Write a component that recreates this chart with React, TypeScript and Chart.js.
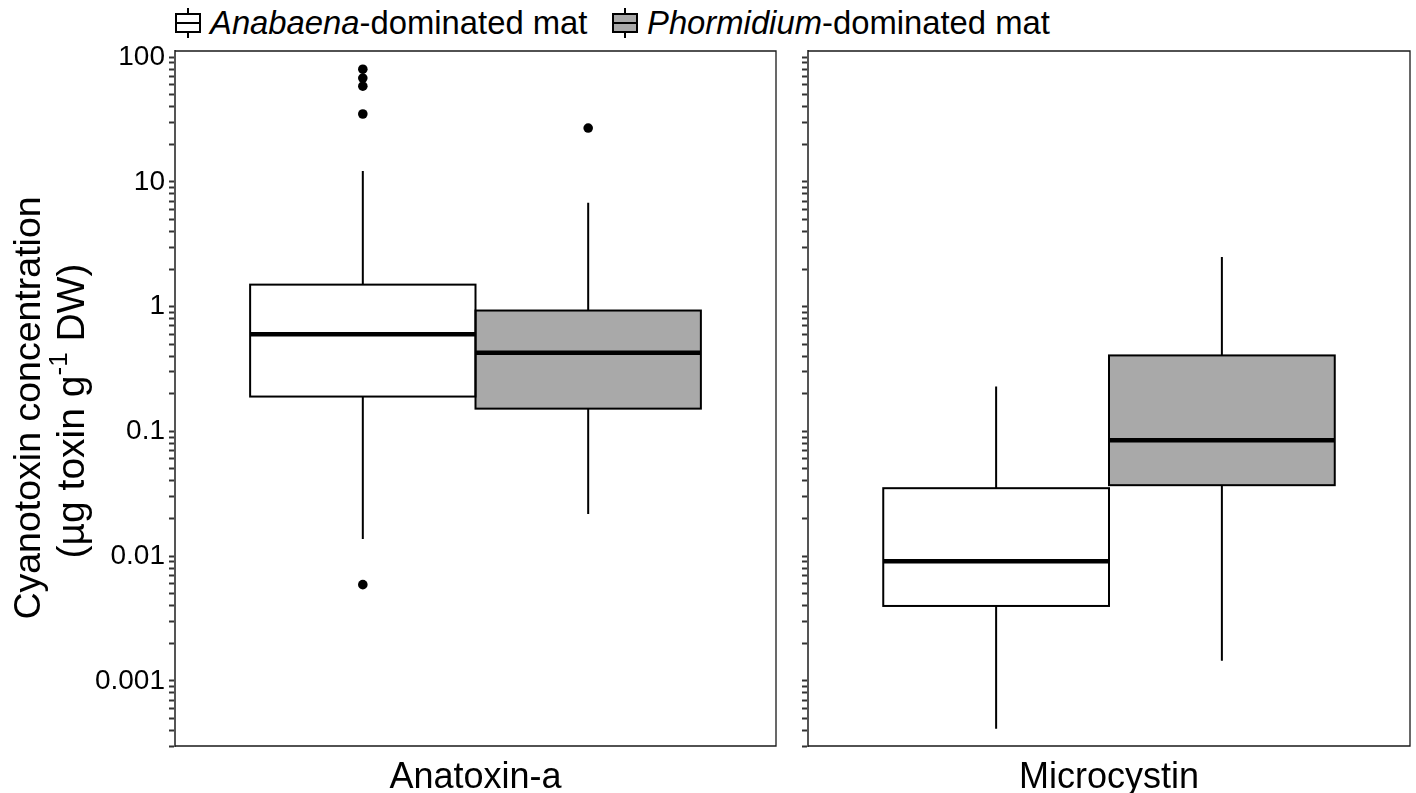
import React, { useEffect, useRef } from 'react';
import { Chart, registerables } from 'chart.js';

Chart.register(...registerables);

const FONT = "'Liberation Sans', Arial, Helvetica, sans-serif";

// ---------- data ----------
const CATEGORIES = ['Anatoxin-a', 'Microcystin'];
const SERIES = ['Anabaena', 'Phormidium'];
const SERIES_FILL = ['#ffffff', '#a9a9a9'];

// per category: [Anatoxin-a, Microcystin]
const ANABAENA_WHISKER_LOW = [0.0137, 0.000413];
const ANABAENA_Q1 = [0.19, 0.00398];
const ANABAENA_MEDIAN = [0.6, 0.0091];
const ANABAENA_Q3 = [1.5, 0.035];
const ANABAENA_WHISKER_HIGH = [12.2, 0.229];
const ANABAENA_OUTLIERS = [[80.0, 68.0, 58.5, 35.0, 0.0059], []];

const PHORMIDIUM_WHISKER_LOW = [0.0217, 0.00145];
const PHORMIDIUM_Q1 = [0.152, 0.037];
const PHORMIDIUM_MEDIAN = [0.426, 0.0847];
const PHORMIDIUM_Q3 = [0.93, 0.406];
const PHORMIDIUM_WHISKER_HIGH = [6.8, 2.5];
const PHORMIDIUM_OUTLIERS = [[27.0], []];

const Y_MIN = 0.0003;
const Y_MAX = 112;
const MAJOR_TICKS = [0.001, 0.01, 0.1, 1, 10, 100];
const MAJOR_LABELS = ['0.001', '0.01', '0.1', '1', '10', '100'];
const TICK_EXPONENTS = [-4, -3, -2, -1, 0, 1, 2];
const TICK_MULTIPLIERS = [1, 2, 3, 4, 5, 6, 7, 8, 9];

const Y_TITLE_LINE1 = 'Cyanotoxin concentration';
const Y_TITLE_LINE2_A = '(µg toxin g';
const Y_TITLE_SUP = '-1';
const Y_TITLE_LINE2_B = ' DW)';

// ---------- derived ----------
const STATS = [
  {
    low: ANABAENA_WHISKER_LOW, q1: ANABAENA_Q1, med: ANABAENA_MEDIAN, q3: ANABAENA_Q3,
    high: ANABAENA_WHISKER_HIGH, out: ANABAENA_OUTLIERS,
  },
  {
    low: PHORMIDIUM_WHISKER_LOW, q1: PHORMIDIUM_Q1, med: PHORMIDIUM_MEDIAN, q3: PHORMIDIUM_Q3,
    high: PHORMIDIUM_WHISKER_HIGH, out: PHORMIDIUM_OUTLIERS,
  },
];

const TICK_VALUES: number[] = [];
TICK_EXPONENTS.forEach((e) => {
  TICK_MULTIPLIERS.forEach((m) => {
    const v = parseFloat((m * Math.pow(10, e)).toPrecision(6));
    if (v >= Y_MIN * 0.999 && v <= Y_MAX * 1.001) TICK_VALUES.push(v);
  });
});

function labelFor(v: number): string {
  for (let i = 0; i < MAJOR_TICKS.length; i++) {
    if (Math.abs(v - MAJOR_TICKS[i]) / MAJOR_TICKS[i] < 1e-6) return MAJOR_LABELS[i];
  }
  return '';
}

type PanelProps = {
  idx: number;
  left: number;
  width: number;
  yAxisWidth: number;
  rightPad: number;
  showYLabels: boolean;
};

function Panel({ idx, left, width, yAxisWidth, rightPad, showYLabels }: PanelProps) {
  const ref = useRef<HTMLCanvasElement | null>(null);

  useEffect(() => {
    if (!ref.current) return;

    const boxPlugin = {
      id: 'boxplotExtras' + idx,
      afterDatasetsDraw(chart: any) {
        const ctx = chart.ctx;
        const yS = chart.scales.y;
        ctx.save();
        ctx.strokeStyle = '#000';
        ctx.fillStyle = '#000';
        STATS.forEach((st, si) => {
          const meta = chart.getDatasetMeta(si);
          const bar = meta.data[0];
          if (!bar) return;
          const x = bar.x;
          const w = bar.width;
          const l = x - w / 2;
          const yq1 = yS.getPixelForValue(st.q1[idx]);
          const yq3 = yS.getPixelForValue(st.q3[idx]);
          const ymed = yS.getPixelForValue(st.med[idx]);
          const ylo = yS.getPixelForValue(st.low[idx]);
          const yhi = yS.getPixelForValue(st.high[idx]);
          ctx.lineWidth = 2;
          ctx.beginPath();
          ctx.moveTo(x, yq3);
          ctx.lineTo(x, yhi);
          ctx.moveTo(x, yq1);
          ctx.lineTo(x, ylo);
          ctx.stroke();
          ctx.lineWidth = 2;
          ctx.strokeRect(l, yq3, w, yq1 - yq3);
          ctx.lineWidth = 4.5;
          ctx.beginPath();
          ctx.moveTo(l, ymed);
          ctx.lineTo(l + w, ymed);
          ctx.stroke();
          st.out[idx].forEach((v) => {
            const yy = yS.getPixelForValue(v);
            ctx.beginPath();
            ctx.arc(x, yy, 4.8, 0, Math.PI * 2);
            ctx.fill();
          });
        });
        ctx.restore();
      },
      afterDraw(chart: any) {
        const ctx = chart.ctx;
        const a = chart.chartArea;
        ctx.save();
        ctx.strokeStyle = '#1a1a1a';
        ctx.lineWidth = 1.3;
        ctx.beginPath();
        ctx.moveTo(a.left, a.top);
        ctx.lineTo(a.right, a.top);
        ctx.lineTo(a.right, a.bottom);
        ctx.lineTo(a.left, a.bottom);
        ctx.stroke();
        ctx.restore();

        if (showYLabels) {
          const cy = 408;
          ctx.save();
          ctx.fillStyle = '#000';
          ctx.translate(30, cy);
          ctx.rotate(-Math.PI / 2);
          ctx.font = `37.5px ${FONT}`;
          ctx.textAlign = 'center';
          ctx.textBaseline = 'middle';
          ctx.fillText(Y_TITLE_LINE1, 0, 0);
          ctx.restore();

          ctx.save();
          ctx.fillStyle = '#000';
          ctx.translate(73, cy + 3);
          ctx.rotate(-Math.PI / 2);
          ctx.textBaseline = 'middle';
          ctx.textAlign = 'left';
          const big = `39px ${FONT}`;
          const small = `26px ${FONT}`;
          ctx.font = big;
          const wA = ctx.measureText(Y_TITLE_LINE2_A).width;
          const wB = ctx.measureText(Y_TITLE_LINE2_B).width;
          ctx.font = small;
          const wS = ctx.measureText(Y_TITLE_SUP).width;
          let xx = -(wA + wS + wB) / 2;
          ctx.font = big;
          ctx.fillText(Y_TITLE_LINE2_A, xx, 0);
          xx += wA;
          ctx.font = small;
          ctx.fillText(Y_TITLE_SUP, xx, -13);
          xx += wS;
          ctx.font = big;
          ctx.fillText(Y_TITLE_LINE2_B, xx, 0);
          ctx.restore();
        }
      },
    };

    const chart = new Chart(ref.current, {
      type: 'bar',
      data: {
        labels: [CATEGORIES[idx]],
        datasets: SERIES.map((s, si) => ({
          label: s,
          data: [[STATS[si].q1[idx], STATS[si].q3[idx]]] as any,
          backgroundColor: SERIES_FILL[si],
          borderWidth: 0,
          categoryPercentage: 0.75,
          barPercentage: 1,
        })),
      },
      options: {
        responsive: false,
        maintainAspectRatio: false,
        animation: false,
        devicePixelRatio: 1,
        layout: { padding: { top: 51, right: rightPad, left: 0, bottom: 0 } },
        plugins: {
          legend: { display: false },
          tooltip: { enabled: false },
          title: { display: false },
        },
        scales: {
          x: {
            type: 'category',
            offset: true,
            grid: { display: false, drawTicks: false },
            border: { display: false },
            ticks: {
              color: '#000',
              font: { family: FONT, size: 36 },
              padding: 10,
              maxRotation: 0,
            },
            afterFit: (s: any) => {
              s.height = 47;
            },
          },
          y: {
            type: 'logarithmic',
            min: Y_MIN,
            max: Y_MAX,
            bounds: 'data',
            afterBuildTicks: (scale: any) => {
              scale.ticks = TICK_VALUES.map((v) => ({ value: v }));
            },
            afterFit: (s: any) => {
              s.width = yAxisWidth;
            },
            grid: {
              display: true,
              drawOnChartArea: false,
              drawTicks: true,
              tickLength: 6,
              tickColor: '#333',
              tickWidth: 2,
            },
            border: { display: true, color: '#555', width: 2 },
            ticks: {
              autoSkip: false,
              padding: 4,
              color: '#000',
              font: { family: FONT, size: 28 },
              major: { enabled: false },
              callback: (v: any) => (showYLabels ? labelFor(Number(v)) : ''),
            },
          },
        },
      } as any,
      plugins: [boxPlugin],
    });

    return () => {
      chart.destroy();
    };
  }, [idx, yAxisWidth, rightPad, showYLabels]);

  return (
    <canvas
      ref={ref}
      width={width}
      height={793}
      style={{ position: 'absolute', left, top: 0, width, height: 793 }}
    />
  );
}

function LegendIcon({ fill }: { fill: string }) {
  return (
    <svg width={26} height={30} viewBox="0 0 26 30" style={{ display: 'block' }}>
      <line x1={13} y1={0} x2={13} y2={30} stroke="#000" strokeWidth={2} />
      <rect x={1} y={6} width={24} height={18} fill={fill} stroke="#000" strokeWidth={2} />
      <line x1={1} y1={15} x2={25} y2={15} stroke="#000" strokeWidth={2} />
    </svg>
  );
}

export default function App() {
  const legendLefts = [175, 612];
  return (
    <div
      style={{
        position: 'absolute',
        left: 0,
        top: 0,
        width: 1416,
        height: 793,
        background: '#fff',
        overflow: 'hidden',
      }}
    >
      {SERIES.map((s, si) => (
        <div
          key={s}
          style={{
            position: 'absolute',
            left: legendLefts[si],
            top: 5,
            height: 36,
            display: 'flex',
            alignItems: 'center',
            fontFamily: FONT,
            fontSize: 32.8,
            whiteSpace: 'nowrap',
            color: '#000',
          }}
        >
          <LegendIcon fill={SERIES_FILL[si]} />
          <span style={{ marginLeft: 9 }}>
            <i>{s}</i>-dominated mat
          </span>
        </div>
      ))}
      <Panel idx={0} left={0} width={792} yAxisWidth={175} rightPad={16} showYLabels={true} />
      <Panel idx={1} left={792} width={624} yAxisWidth={16} rightPad={6} showYLabels={false} />
    </div>
  );
}
